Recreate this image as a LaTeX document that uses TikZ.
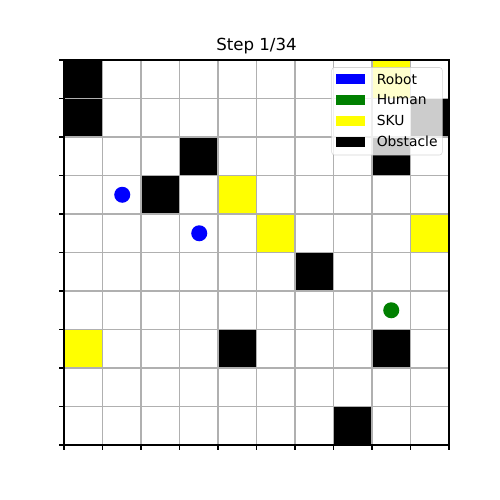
\documentclass[tikz,border=0pt]{standalone}
\usepackage{fontspec}
\setmainfont{DejaVu Sans}
\usepackage{xcolor}
\definecolor{gridGray}{HTML}{B0B0B0}
\definecolor{humanGreen}{HTML}{008000}
\definecolor{skuYellow}{HTML}{FFFF00}
\definecolor{legendEdge}{HTML}{CCCCCC}

\begin{document}
\begin{tikzpicture}[x=0.01in, y=-0.01in,
    gridline/.style={draw=gridGray, line width=0.8pt},
    spine/.style={draw=black, line width=0.8pt},
    agent/.style={circle, minimum size=0.16in, inner sep=0pt},
    handle/.style={minimum width=0.28in, minimum height=0.097in, inner sep=0pt},
    entry/.style={anchor=west, inner sep=0pt, font=\fontsize{10}{12}\selectfont}]
  \useasboundingbox (0,0) rectangle (500,500);
  % cells
  \foreach \c/\r in {0/0, 0/1, 9/1, 3/2, 8/2, 2/3, 6/5, 4/7, 8/7, 7/9}
    \fill[black] ({64+38.5*\c},{60+38.5*\r}) rectangle ++(38.5,38.5);
  \foreach \c/\r in {8/0, 4/3, 5/4, 9/4, 0/7}
    \fill[skuYellow] ({64+38.5*\c},{60+38.5*\r}) rectangle ++(38.5,38.5);
  % grid and ticks
  \foreach \i in {0,...,10} {
    \draw[gridline] ({64+38.5*\i},60) -- ({64+38.5*\i},445);
    \draw[gridline] (64,{60+38.5*\i}) -- (449,{60+38.5*\i});
    \draw[spine] ({64+38.5*\i},445) -- ++(0,4.9);
    \draw[spine] (64,{60+38.5*\i}) -- ++(-4.9,0);
  }
  \draw[spine] (64,60) rectangle (449,445);
  % agents
  \node[agent, fill=blue] (robotA) at (122.25,194.75) {};
  \node[agent, fill=blue] (robotB) at (199.25,233.25) {};
  \node[agent, fill=humanGreen] (human) at (391.25,310.25) {};
  % title
  \node[font=\fontsize{12}{14}\selectfont] (title) at (256.5,46) {Step 1/34};
  % legend
  \draw[rounded corners=2pt, draw=legendEdge, fill=white, fill opacity=0.8, draw opacity=0.8]
    (331.7,67.5) rectangle (442.3,155);
  \foreach \name/\col [count=\k from 0] in {Robot/blue, Human/humanGreen, SKU/skuYellow, Obstacle/black} {
    \node[handle, fill=\col] (h\k) at (350.5,{79+20.9*\k}) {};
    \node[entry] (t\k) at (376.5,{79+20.9*\k}) {\name};
  }
\end{tikzpicture}
\end{document}
